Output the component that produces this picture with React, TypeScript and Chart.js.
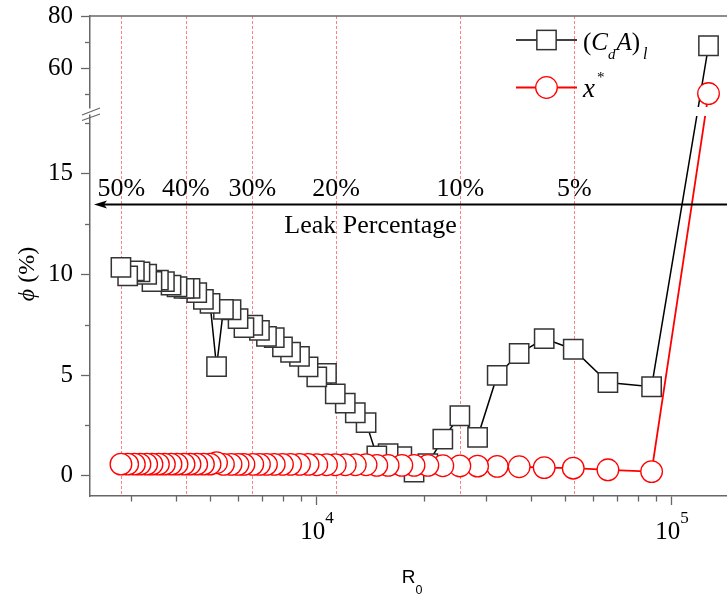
import React, { useEffect, useRef } from 'react';
import { Chart, registerables, LinearScale } from 'chart.js';

// ---------- data ----------
const R0 = [2804, 2929, 3059, 3172, 3313, 3429, 3575, 3717, 3880, 4034, 4222, 4389, 4584, 4787, 4997, 5213, 5451, 5727, 5993, 6227, 6593, 6886, 7206, 7580, 7994, 8425, 8928, 9439, 9987, 10636, 11260, 12014, 12822, 13751, 14741, 15863, 17340, 18770, 20530, 22620, 25264, 28339, 32186, 37114, 43659, 52708, 66005, 87625, 126750];
const CDA_L = [10.34, 9.92, 10.17, 10.12, 10.0, 9.64, 9.71, 9.63, 9.46, 9.38, 9.3, 9.3, 9.09, 8.75, 8.56, 5.42, 8.26, 8.24, 7.8, 7.35, 7.47, 7.22, 6.92, 6.86, 6.4, 6.13, 5.93, 5.41, 4.91, 5.08, 4.07, 3.61, 3.13, 2.64, 0.99, 1.1, 0.95, 0.19, 0.6, 1.82, 2.98, 1.91, 4.98, 6.07, 6.81, 6.28, 4.63, 4.42, 68.6];
const X_STAR = [0.58, 0.58, 0.58, 0.58, 0.58, 0.58, 0.58, 0.58, 0.58, 0.58, 0.58, 0.58, 0.58, 0.58, 0.58, 0.65, 0.57, 0.57, 0.57, 0.57, 0.57, 0.57, 0.57, 0.57, 0.57, 0.57, 0.57, 0.57, 0.55, 0.55, 0.55, 0.55, 0.55, 0.55, 0.52, 0.52, 0.52, 0.52, 0.52, 0.5, 0.49, 0.48, 0.47, 0.45, 0.41, 0.38, 0.3, 0.21, 50.3];

const LEAK_LABELS = ['50%', '40%', '30%', '20%', '10%', '5%'];
const LEAK_R0 = [2812, 4269, 6580, 11319, 25346, 53120];
const LEAK_LABEL_Y = 13.88;
const ARROW_Y = 13.48;
const LEAK_TEXT = 'Leak Percentage';
const LEAK_TEXT_R0 = 14160;
const LEAK_TEXT_Y = 12.05;

const Y_MAJOR = [0, 5, 10, 15, 60, 80];
const Y_MINOR = [2.5, 7.5, 12.5, 17.5, 50, 70];
const X_MAJOR = [1e4, 1e5];
const X_MAJOR_EXP = ['4', '5'];
const X_MINOR = [3000, 4000, 5000, 6000, 7000, 8000, 9000, 20000, 30000, 40000, 50000, 60000, 70000, 80000, 90000];
const X_RANGE = [2294, 142900];
const Y_LOW = [-1, 18];
const Y_HIGH = [44, 80];
const HIGH_FRAC = 94 / 480;
const GAP_FRAC = 3 / 480;

const W = 727;
const H = 598;
const SERIF = '"Liberation Serif", "Times New Roman", serif';
const SANS = '"Liberation Sans", Arial, sans-serif';
const AXIS = '#676767';

// ---------- broken linear y scale ----------
class BrokenLinearScale extends LinearScale {
  static id = 'brokenLinear';
  static defaults = LinearScale.defaults;
  getPixelForValue(value: any) {
    if (value === null || value === undefined || isNaN(value)) return NaN;
    const h = this.bottom - this.top;
    const hiH = h * HIGH_FRAC;
    const loH = h * (1 - HIGH_FRAC - GAP_FRAC);
    if (value > (Y_LOW[1] + Y_HIGH[0]) / 2) {
      return this.top + ((Y_HIGH[1] - value) / (Y_HIGH[1] - Y_HIGH[0])) * hiH;
    }
    return this.bottom - ((value - Y_LOW[0]) / (Y_LOW[1] - Y_LOW[0])) * loH;
  }
  getValueForPixel(pixel: number) {
    const h = this.bottom - this.top;
    const hiH = h * HIGH_FRAC;
    const loH = h * (1 - HIGH_FRAC - GAP_FRAC);
    if (pixel < this.top + hiH + (h * GAP_FRAC) / 2) {
      return Y_HIGH[1] - ((pixel - this.top) / hiH) * (Y_HIGH[1] - Y_HIGH[0]);
    }
    return Y_LOW[0] + ((this.bottom - pixel) / loH) * (Y_LOW[1] - Y_LOW[0]);
  }
  gapCenter() {
    const h = this.bottom - this.top;
    return this.top + h * HIGH_FRAC + (h * GAP_FRAC) / 2;
  }
}

Chart.register(...registerables, BrokenLinearScale);

type Part = { t: string; size: number; italic?: boolean; dy?: number; dx?: number; family?: string };
const fontOf = (p: Part) => `${p.italic ? 'italic ' : ''}${p.size}px ${p.family || SERIF}`;
function richWidth(ctx: CanvasRenderingContext2D, parts: Part[]) {
  let w = 0;
  for (const p of parts) {
    ctx.font = fontOf(p);
    w += ctx.measureText(p.t).width + (p.dx || 0);
  }
  return w;
}
function drawRich(ctx: CanvasRenderingContext2D, parts: Part[], x: number, y: number) {
  let cx = x;
  for (const p of parts) {
    ctx.font = fontOf(p);
    cx += p.dx || 0;
    ctx.fillText(p.t, cx, y + (p.dy || 0));
    cx += ctx.measureText(p.t).width;
  }
}

const decor = {
  id: 'decor',
  beforeDatasetsDraw(chart: any) {
    const { ctx, chartArea: a } = chart;
    const x = chart.scales.x;
    ctx.save();
    ctx.strokeStyle = '#ff8080';
    ctx.lineWidth = 1;
    ctx.setLineDash([3, 2]);
    for (const v of LEAK_R0) {
      const px = Math.round(x.getPixelForValue(v)) + 0.5;
      ctx.beginPath();
      ctx.moveTo(px, a.top);
      ctx.lineTo(px, a.bottom);
      ctx.stroke();
    }
    ctx.restore();
  },
  afterDatasetsDraw(chart: any) {
    const { ctx, chartArea: a } = chart;
    const x = chart.scales.x;
    const y = chart.scales.y;
    ctx.save();
    const g = y.gapCenter();
    ctx.fillStyle = '#ffffff';
    ctx.fillRect(a.right - 90, g - 4.5, 90, 9);

    const ay = Math.round(y.getPixelForValue(ARROW_Y)) + 0.5;
    ctx.strokeStyle = '#000';
    ctx.lineWidth = 2;
    ctx.beginPath();
    ctx.moveTo(a.left + 12, ay);
    ctx.lineTo(a.right, ay);
    ctx.stroke();
    ctx.fillStyle = '#000';
    ctx.beginPath();
    ctx.moveTo(a.left + 4, ay);
    ctx.lineTo(a.left + 17, ay - 4);
    ctx.lineTo(a.left + 14, ay);
    ctx.lineTo(a.left + 17, ay + 4);
    ctx.closePath();
    ctx.fill();

    ctx.fillStyle = '#000';
    ctx.textBaseline = 'alphabetic';
    ctx.textAlign = 'center';
    ctx.font = `26px ${SERIF}`;
    const ly = y.getPixelForValue(LEAK_LABEL_Y);
    LEAK_LABELS.forEach((t, i) => {
      ctx.fillText(t, x.getPixelForValue(LEAK_R0[i]), ly);
    });
    ctx.fillText(LEAK_TEXT, x.getPixelForValue(LEAK_TEXT_R0), y.getPixelForValue(LEAK_TEXT_Y));
    ctx.restore();
  },
  afterDraw(chart: any) {
    const { ctx, chartArea: a } = chart;
    const x = chart.scales.x;
    const y = chart.scales.y;
    ctx.save();
    ctx.strokeStyle = AXIS;
    ctx.lineWidth = 1.5;
    ctx.beginPath();
    ctx.moveTo(a.left, a.top);
    ctx.lineTo(a.right, a.top);
    ctx.stroke();
    ctx.lineWidth = 1.3;
    for (const v of X_MINOR) {
      const px = Math.round(x.getPixelForValue(v)) + 0.5;
      ctx.beginPath();
      ctx.moveTo(px, a.bottom);
      ctx.lineTo(px, a.bottom + 5.5);
      ctx.stroke();
    }
    for (const v of Y_MINOR) {
      const py = Math.round(y.getPixelForValue(v)) + 0.5;
      ctx.beginPath();
      ctx.moveTo(a.left, py);
      ctx.lineTo(a.left - 5, py);
      ctx.stroke();
    }
    const g = y.gapCenter();
    ctx.fillStyle = '#fff';
    ctx.fillRect(a.left - 3, g - 3, 6, 6);
    ctx.strokeStyle = AXIS;
    ctx.lineWidth = 1.2;
    ctx.beginPath();
    ctx.moveTo(a.left - 8, g + 9);
    ctx.lineTo(a.left + 10, g + 2.5);
    ctx.moveTo(a.left - 8, g + 3.5);
    ctx.lineTo(a.left + 10, g - 3.5);
    ctx.stroke();

    ctx.fillStyle = '#000';
    ctx.textAlign = 'left';
    ctx.textBaseline = 'alphabetic';
    X_MAJOR.forEach((v, i) => {
      const px = x.getPixelForValue(v);
      const parts: Part[] = [
        { t: '10', size: 25 },
        { t: X_MAJOR_EXP[i], size: 17, dy: -16 },
      ];
      const w = richWidth(ctx, parts);
      drawRich(ctx, parts, px - w / 2, a.bottom + 43);
    });

    const xt: Part[] = [
      { t: 'R', size: 19, family: SANS },
      { t: '0', size: 12.5, family: SANS, dy: 11 },
    ];
    const xw = richWidth(ctx, xt);
    drawRich(ctx, xt, (a.left + a.right) / 2 + 3.5 - xw / 2, a.bottom + 87);

    ctx.save();
    ctx.translate(27.5, 274);
    ctx.rotate(-Math.PI / 2);
    ctx.textBaseline = 'middle';
    const yt: Part[] = [
      { t: '\u03D5', size: 24, italic: true },
      { t: ' (%)', size: 24 },
    ];
    const yw = richWidth(ctx, yt);
    drawRich(ctx, yt, -yw / 2, 0);
    ctx.restore();

    const lx0 = a.right - 211;
    const lx1 = a.right - 150;
    const lcx = (lx0 + lx1) / 2;
    const r1 = a.top + 24;
    const r2 = a.top + 71.5;
    ctx.lineWidth = 1.5;
    ctx.strokeStyle = '#000';
    ctx.beginPath();
    ctx.moveTo(lx0, r1);
    ctx.lineTo(lx1, r1);
    ctx.stroke();
    ctx.fillStyle = '#fff';
    ctx.fillRect(lcx - 9.65, r1 - 9.65, 19.3, 19.3);
    ctx.strokeStyle = '#333';
    ctx.strokeRect(lcx - 9.65, r1 - 9.65, 19.3, 19.3);

    ctx.strokeStyle = '#ff0000';
    ctx.lineWidth = 1.8;
    ctx.beginPath();
    ctx.moveTo(lx0, r2);
    ctx.lineTo(lx1, r2);
    ctx.stroke();
    ctx.fillStyle = '#fff';
    ctx.lineWidth = 1.3;
    ctx.beginPath();
    ctx.arc(lcx, r2, 10.8, 0, Math.PI * 2);
    ctx.fill();
    ctx.stroke();

    ctx.fillStyle = '#000';
    drawRich(
      ctx,
      [
        { t: '(', size: 25 },
        { t: 'C', size: 25, italic: true },
        { t: 'd', size: 15, italic: true, dy: 9 },
        { t: 'A', size: 25, italic: true, dx: 1 },
        { t: ')', size: 25 },
        { t: 'l', size: 16, italic: true, dy: 9, dx: 3 },
      ],
      lx1 + 6,
      r1 + 10
    );
    drawRich(
      ctx,
      [
        { t: 'x', size: 27, italic: true },
        { t: '*', size: 15, dy: -15, dx: 2 },
      ],
      lx1 + 6,
      r2 + 9
    );
    ctx.restore();
  },
};

export default function App() {
  const ref = useRef<HTMLCanvasElement>(null);
  useEffect(() => {
    document.body.style.overflow = 'hidden';
    const canvas = ref.current!;
    const black = R0.map((r, i) => ({ x: r, y: CDA_L[i] })).reverse();
    const red = R0.map((r, i) => ({ x: r, y: X_STAR[i] })).reverse();
    const chart = new Chart(canvas, {
      type: 'line',
      data: {
        datasets: [
          {
            label: 'x*',
            data: red,
            order: 0,
            borderColor: '#ff0000',
            borderWidth: 1.8,
            pointStyle: 'circle',
            pointRadius: 10.8,
            pointBorderColor: '#ff0000',
            pointBackgroundColor: '#ffffff',
            pointBorderWidth: 1.3,
            tension: 0,
          },
          {
            label: '(CdA)l',
            data: black,
            order: 1,
            borderColor: '#000000',
            borderWidth: 1.5,
            pointStyle: 'rect',
            pointRadius: 13.65,
            pointBorderColor: '#333333',
            pointBackgroundColor: '#ffffff',
            pointBorderWidth: 1.5,
            tension: 0,
          },
        ],
      },
      options: {
        responsive: false,
        maintainAspectRatio: false,
        animation: false,
        events: [],
        devicePixelRatio: 1,
        layout: { autoPadding: false, padding: { top: 16, left: 0, right: 0, bottom: 0 } },
        plugins: { legend: { display: false }, tooltip: { enabled: false } },
        scales: {
          x: {
            type: 'logarithmic',
            min: X_RANGE[0],
            max: X_RANGE[1],
            afterBuildTicks: (s: any) => {
              s.ticks = X_MAJOR.map((v) => ({ value: v }));
            },
            afterFit: (s: any) => {
              s.height = 102;
              s.paddingLeft = 0;
              s.paddingRight = 0;
            },
            ticks: { display: false },
            grid: { drawOnChartArea: false, drawTicks: true, tickLength: 9, tickColor: AXIS, tickWidth: 1.3, color: AXIS },
            border: { display: true, color: AXIS, width: 1.5 },
          },
          y: {
            type: 'brokenLinear' as any,
            min: Y_LOW[0],
            max: Y_HIGH[1],
            afterBuildTicks: (s: any) => {
              s.ticks = Y_MAJOR.map((v) => ({ value: v }));
            },
            afterFit: (s: any) => {
              s.width = 90;
              s.paddingTop = 0;
              s.paddingBottom = 0;
            },
            ticks: {
              autoSkip: false,
              padding: 8,
              color: '#000',
              font: { family: SERIF, size: 25 },
              callback: (v: any) => String(v),
            },
            grid: { drawOnChartArea: false, drawTicks: true, tickLength: 9, tickColor: AXIS, tickWidth: 1.3, color: AXIS },
            border: { display: true, color: AXIS, width: 1.5 },
          },
        },
      } as any,
      plugins: [decor],
    });
    return () => chart.destroy();
  }, []);
  return (
    <div style={{ position: 'fixed', left: 0, top: 0, width: W, height: H, overflow: 'hidden', background: '#fff' }}>
      <canvas ref={ref} width={W} height={H} style={{ display: 'block', width: W, height: H }} />
    </div>
  );
}
